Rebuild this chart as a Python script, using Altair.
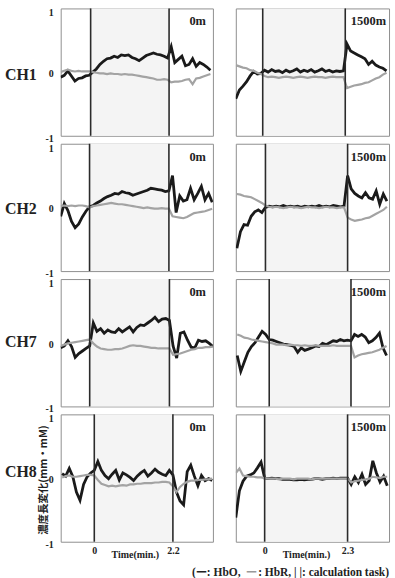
import altair as alt
import pandas as pd

# ---------------- data ----------------
channels = ["CH1", "CH2", "CH7", "CH8"]
altitudes = ["0m", "1500m"]
task_end = [2.2, 2.3]          # end of calculation task (min.) per column
sample_step = 0.1              # minutes between read-off samples
y_ticks = [1, 0, -1]

# visible time window of every panel (min.)
x_domains = {
    ("CH1", 0): [-0.84, 3.43], ("CH1", 1): [-0.75, 3.52],
    ("CH2", 0): [-0.80, 3.42], ("CH2", 1): [-0.83, 3.46],
    ("CH7", 0): [-0.80, 3.40], ("CH7", 1): [-0.94, 3.37],
    ("CH8", 0): [-0.94, 3.32], ("CH8", 1): [-0.80, 3.45],
}
# time of first read-off sample of every panel
t_first = {
    ("CH1", 0): -0.84, ("CH1", 1): -0.75,
    ("CH2", 0): -0.80, ("CH2", 1): -0.80,
    ("CH7", 0): -0.80, ("CH7", 1): -0.90,
    ("CH8", 0): -0.90, ("CH8", 1): -0.80,
}

ch1_0m_hbo = [-0.08, -0.05, 0.02, -0.06, -0.14, -0.10, -0.09, -0.06, -0.05, 0.00, 0.05, 0.12, 0.17, 0.21, 0.22,
              0.25, 0.23, 0.27, 0.26, 0.27, 0.23, 0.21, 0.18, 0.22, 0.26, 0.28, 0.30, 0.28, 0.27, 0.25, 0.22,
              0.40, 0.15, 0.20, 0.25, 0.10, 0.12, 0.21, 0.09, 0.15, 0.12, 0.08, 0.03]
ch1_0m_hbr = [0.00, 0.02, 0.04, 0.02, 0.01, 0.02, 0.01, 0.01, 0.01, 0.00, -0.01, -0.02, -0.02, -0.03, -0.02,
              -0.03, -0.03, -0.04, -0.03, -0.04, -0.04, -0.05, -0.06, -0.07, -0.08, -0.09, -0.10, -0.12, -0.12,
              -0.11, -0.12, -0.16, -0.15, -0.15, -0.14, -0.12, -0.11, -0.19, -0.10, -0.09, -0.07, -0.05, -0.03]
ch1_1500m_hbo = [-0.42, -0.28, -0.22, -0.15, -0.06, 0.01, -0.03, -0.02, 0.03, 0.00, 0.04, 0.01, 0.02, -0.01, 0.03,
                 0.00, 0.02, 0.05, 0.00, 0.03, 0.01, 0.04, 0.00, 0.02, 0.05, 0.01, 0.03, 0.00, 0.02, 0.01, 0.02,
                 0.44, 0.33, 0.30, 0.27, 0.24, 0.21, 0.12, 0.17, 0.11, 0.08, 0.06, 0.02]
ch1_1500m_hbr = [0.11, 0.09, 0.07, 0.06, 0.03, 0.02, -0.01, -0.03, -0.06, -0.08, -0.07, -0.08, -0.09, -0.08, -0.07,
                 -0.08, -0.09, -0.08, -0.07, -0.08, -0.09, -0.08, -0.07, -0.08, -0.08, -0.09, -0.08, -0.07, -0.08,
                 -0.08, -0.08, -0.25, -0.23, -0.21, -0.20, -0.19, -0.17, -0.16, -0.13, -0.10, -0.08, -0.04, -0.01]

ch2_0m_hbo = [-0.14, 0.06, -0.05, -0.22, -0.32, -0.26, -0.15, -0.06, 0.01, 0.03, 0.07, 0.10, 0.14, 0.17, 0.19,
              0.22, 0.21, 0.25, 0.23, 0.22, 0.19, 0.21, 0.23, 0.25, 0.27, 0.30, 0.29, 0.28, 0.27, 0.25, 0.26,
              0.50, -0.08, 0.18, 0.10, 0.12, 0.30, 0.12, 0.22, 0.33, 0.12, 0.22, 0.08]
ch2_0m_hbr = [0.02, 0.03, 0.02, 0.03, 0.02, 0.03, 0.03, 0.02, 0.00, 0.02, 0.03, 0.04, 0.05, 0.06, 0.07, 0.06,
              0.05, 0.05, 0.04, 0.03, 0.02, 0.01, 0.00, -0.01, 0.00, -0.01, -0.02, -0.02, -0.01, -0.02, -0.02,
              -0.14, -0.15, -0.16, -0.17, -0.15, -0.12, -0.09, -0.08, -0.07, -0.06, -0.04, -0.02]
ch2_1500m_hbo = [-0.64, -0.38, -0.27, -0.28, -0.14, -0.07, -0.04, -0.08, 0.00, 0.02, 0.01, 0.02, 0.01, 0.03, 0.01,
                 0.02, 0.01, 0.02, 0.00, 0.02, 0.01, 0.02, 0.01, 0.03, 0.01, 0.02, 0.01, 0.03, 0.02, 0.01, 0.02,
                 0.50, 0.29, 0.22, 0.18, 0.15, 0.23, 0.15, 0.13, 0.26, 0.05, 0.21, 0.10]
ch2_1500m_hbr = [0.21, 0.20, 0.18, 0.17, 0.16, 0.13, 0.10, 0.07, 0.03, 0.01, 0.00, 0.01, 0.00, -0.01, 0.00, 0.01,
                 0.00, 0.00, -0.01, 0.00, 0.01, 0.00, 0.00, -0.01, 0.00, 0.01, 0.00, 0.00, -0.01, 0.00, 0.00,
                 -0.16, -0.19, -0.21, -0.20, -0.19, -0.17, -0.16, -0.13, -0.10, -0.07, -0.04, 0.01]

ch7_0m_hbo = [-0.08, -0.05, 0.03, -0.06, -0.23, -0.17, -0.13, -0.09, -0.05, 0.31, 0.18, 0.22, 0.15, 0.20, 0.17,
              0.16, 0.22, 0.17, 0.21, 0.25, 0.17, 0.24, 0.28, 0.27, 0.31, 0.35, 0.40, 0.33, 0.37, 0.38, 0.35,
              -0.05, -0.24, 0.15, 0.17, 0.04, -0.07, -0.08, 0.04, 0.02, 0.03, -0.01, -0.06]
ch7_0m_hbr = [-0.05, -0.03, -0.01, 0.00, 0.01, 0.02, 0.03, 0.04, 0.05, -0.01, -0.06, -0.09, -0.10, -0.11, -0.11,
              -0.10, -0.10, -0.09, -0.07, -0.05, -0.04, -0.05, -0.05, -0.06, -0.07, -0.08, -0.08, -0.09, -0.09,
              -0.09, -0.09, -0.19, -0.18, -0.17, -0.15, -0.13, -0.11, -0.10, -0.08, -0.08, -0.07, -0.07, -0.06]
ch7_1500m_hbo = [-0.20, -0.45, -0.30, -0.15, -0.06, 0.00, 0.09, 0.18, 0.13, 0.05, 0.04, 0.02, 0.00, -0.02, -0.03,
                 -0.04, -0.06, -0.15, -0.08, -0.12, -0.10, -0.08, -0.05, -0.06, -0.01, -0.03, 0.00, 0.03, 0.02,
                 0.05, 0.03, 0.04, 0.03, 0.13, 0.10, 0.13, 0.09, 0.00, 0.03, 0.08, 0.15, -0.08, -0.20]
ch7_1500m_hbr = [0.13, 0.11, 0.08, 0.07, 0.05, 0.04, 0.03, 0.02, 0.01, 0.00, -0.01, -0.03, -0.03, -0.03, -0.04,
                 -0.03, -0.04, -0.04, -0.05, -0.04, -0.05, -0.05, -0.04, -0.05, -0.05, -0.05, -0.05, -0.04, -0.05,
                 -0.05, -0.05, -0.05, -0.05, -0.23, -0.20, -0.18, -0.17, -0.16, -0.15, -0.13, -0.11, -0.08, -0.05]

ch8_0m_hbo = [0.07, 0.03, 0.15, 0.02, -0.22, -0.35, -0.10, 0.02, 0.08, 0.12, 0.26, 0.12, 0.04, -0.01, 0.06, 0.12,
              -0.03, 0.08, 0.05, 0.01, -0.04, 0.03, 0.08, 0.12, 0.03, 0.08, 0.14, 0.09, 0.06, 0.04, 0.12, 0.05,
              -0.22, -0.36, -0.42, 0.10, 0.20, 0.03, -0.12, 0.04, -0.04, -0.01, -0.04]
ch8_0m_hbr = [0.01, 0.03, 0.04, 0.02, 0.02, 0.03, 0.04, 0.05, 0.05, 0.04, -0.03, -0.09, -0.11, -0.13, -0.12,
              -0.13, -0.12, -0.11, -0.12, -0.10, -0.10, -0.09, -0.09, -0.08, -0.08, -0.08, -0.07, -0.07, -0.06,
              -0.06, -0.07, -0.13, -0.22, -0.14, -0.09, -0.06, -0.04, -0.04, -0.03, -0.03, -0.02, -0.02, -0.01]
ch8_1500m_hbo = [-0.62, -0.20, -0.05, 0.03, 0.05, 0.08, 0.16, 0.25, 0.00, -0.01, 0.00, -0.01, -0.01, -0.02, -0.02,
                 -0.02, -0.03, -0.03, -0.02, -0.03, -0.02, -0.02, -0.01, -0.01, -0.02, -0.01, -0.01, 0.00, -0.01,
                 0.00, 0.00, 0.00, -0.10, 0.02, -0.07, 0.06, -0.10, -0.04, 0.27, 0.08, -0.06, 0.03, -0.12]
ch8_1500m_hbr = [0.08, 0.15, 0.04, 0.03, 0.02, 0.02, 0.01, 0.01, 0.00, -0.01, -0.01, -0.01, -0.02, -0.01, -0.01,
                 -0.01, -0.02, -0.01, -0.01, -0.01, -0.01, -0.02, -0.01, -0.01, -0.01, -0.01, -0.01, -0.01, -0.01,
                 -0.01, -0.01, -0.01, -0.07, -0.05, -0.04, -0.03, -0.02, -0.01, 0.02, 0.01, 0.00, 0.02, 0.02]

hbo = {
    ("CH1", 0): ch1_0m_hbo, ("CH1", 1): ch1_1500m_hbo,
    ("CH2", 0): ch2_0m_hbo, ("CH2", 1): ch2_1500m_hbo,
    ("CH7", 0): ch7_0m_hbo, ("CH7", 1): ch7_1500m_hbo,
    ("CH8", 0): ch8_0m_hbo, ("CH8", 1): ch8_1500m_hbo,
}
hbr = {
    ("CH1", 0): ch1_0m_hbr, ("CH1", 1): ch1_1500m_hbr,
    ("CH2", 0): ch2_0m_hbr, ("CH2", 1): ch2_1500m_hbr,
    ("CH7", 0): ch7_0m_hbr, ("CH7", 1): ch7_1500m_hbr,
    ("CH8", 0): ch8_0m_hbr, ("CH8", 1): ch8_1500m_hbr,
}

y_title = "濃度長変化(mm・mM)"
x_title = "Time(min.)"

# ---------------- layout / style ----------------
PANEL_H = 128
WIDTHS = [153, 154]
FONT = "Liberation Serif"
CJK = "Noto Sans CJK JP"
row_label_y = [67, 66, 63, 58]
tick_label_dy = {1: 5, 0: 2, -1: 3}


def series_df(values, t0):
    return pd.DataFrame({"t": [round(t0 + sample_step * i, 2) for i in range(len(values))], "v": values})


def make_panel(row, col):
    ch = channels[row]
    key = (ch, col)
    W = WIDTHS[col]
    te = task_end[col]
    xs = alt.Scale(domain=x_domains[key], nice=False, zero=False)
    ys = alt.Scale(domain=[-1, 1], nice=False, zero=False)
    bottom = row == len(channels) - 1

    if bottom:
        x_axis = alt.Axis(values=[0, te], format=".1~f", ticks=False, domain=False, grid=False,
                          title=None, labelPadding=4, labelFlush=False, labelFontSize=10,
                          labelFont=FONT, labelFontWeight="bold", labelColor="#222")
    else:
        x_axis = None

    shade = alt.Chart(pd.DataFrame({"start": [0.0], "end": [te]})).mark_rect(color="#f4f4f4").encode(
        x=alt.X("start:Q", scale=xs, axis=x_axis), x2="end:Q",
        y=alt.value(0), y2=alt.value(PANEL_H))
    line_hbo = alt.Chart(series_df(hbo[key], t_first[key])).mark_line(
        color="#1a1a1a", strokeWidth=2.8, clip=True).encode(
        x=alt.X("t:Q", scale=xs, axis=x_axis), y=alt.Y("v:Q", scale=ys, axis=None))
    line_hbr = alt.Chart(series_df(hbr[key], t_first[key])).mark_line(
        color="#a3a3a3", strokeWidth=2.2, clip=True).encode(
        x=alt.X("t:Q", scale=xs, axis=x_axis), y=alt.Y("v:Q", scale=ys, axis=None))
    rules = alt.Chart(pd.DataFrame({"t": [0.0, te]})).mark_rule(color="#2b2b2b", strokeWidth=1.6).encode(
        x=alt.X("t:Q", scale=xs, axis=x_axis), y=alt.value(0), y2=alt.value(PANEL_H))
    alt_label = alt.Chart(pd.DataFrame({"label": [altitudes[col]]})).mark_text(
        align="right", baseline="alphabetic", font=FONT, fontWeight="bold", fontSize=12.5, color="#222").encode(
        x=alt.value(W - (7 if col == 0 else 3)), y=alt.value(17), text="label:N")

    layers = [shade, line_hbo, line_hbr, rules, alt_label]

    if col == 0:
        # y tick labels (1, 0, -1), each nudged like in the original figure
        for v in y_ticks:
            layers.append(alt.Chart(pd.DataFrame({"v": [v], "label": [str(v)]})).mark_text(
                align="right", baseline="middle", font=FONT, fontWeight="bold", fontSize=10,
                color="#222", dy=tick_label_dy[v]).encode(
                x=alt.value(-7), y=alt.Y("v:Q", scale=ys, axis=None), text="label:N"))
        layers.append(alt.Chart(pd.DataFrame({"label": [ch]})).mark_text(
            align="left", baseline="middle", font=FONT, fontWeight="bold", fontSize=16, color="#222").encode(
            x=alt.value(-56), y=alt.value(row_label_y[row]), text="label:N"))
    if bottom:
        layers.append(alt.Chart(pd.DataFrame({"label": [x_title]})).mark_text(
            align="center", baseline="middle", font=FONT, fontWeight="bold", fontSize=10, color="#222").encode(
            x=alt.value(75 if col == 0 else 71), y=alt.value(PANEL_H + 13), text="label:N"))
        if col == 0:
            layers.append(alt.Chart(pd.DataFrame({"label": [y_title]})).mark_text(
                align="center", baseline="middle", angle=270, font=CJK, fontWeight="bold", fontSize=10.5,
                color="#222").encode(x=alt.value(-17), y=alt.value(66), text="label:N"))
        else:
            leg_y = PANEL_H + 31
            layers.append(alt.Chart(pd.DataFrame({"label": ["(ー: HbO, "]})).mark_text(
                align="left", baseline="middle", font=FONT, fontWeight="bold", fontSize=11.5, color="#222").encode(
                x=alt.value(-44), y=alt.value(leg_y), text="label:N"))
            layers.append(alt.Chart(pd.DataFrame({"label": ["ー"]})).mark_text(
                align="left", baseline="middle", font=FONT, fontWeight="bold", fontSize=11.5, color="#999").encode(
                x=alt.value(10), y=alt.value(leg_y), text="label:N"))
            layers.append(alt.Chart(pd.DataFrame({"label": [": HbR, | |: calculation task)"]})).mark_text(
                align="right", baseline="middle", font=FONT, fontWeight="bold", fontSize=11.5, color="#222").encode(
                x=alt.value(W), y=alt.value(leg_y), text="label:N"))

    return alt.layer(*layers).properties(width=W, height=PANEL_H)


panels = [make_panel(r, c) for r in range(len(channels)) for c in range(2)]

chart = alt.concat(*panels, columns=2, spacing={"row": 8, "column": 23}, bounds="flush").properties(
    padding={"left": 4, "top": 5, "right": 5, "bottom": 0},
    background="white",
).configure_view(stroke="#8f8f8f", strokeWidth=1)

chart.save("out.html", embed_options={"renderer": "svg", "actions": False})
